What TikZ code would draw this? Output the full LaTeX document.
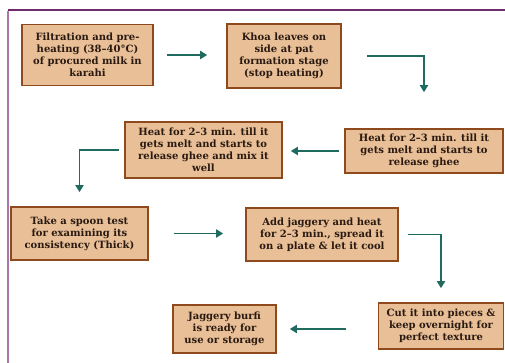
\documentclass[tikz,border=0pt]{standalone}
\usepackage{fontspec}
\setmainfont{DejaVu Serif}
\usetikzlibrary{arrows.meta,calc}
\definecolor{boxfill}{HTML}{E8BF96}
\definecolor{boxline}{HTML}{8E4A1C}
\definecolor{arrowc}{HTML}{1F6B5F}
\definecolor{frametop}{HTML}{6E2C6E}
\definecolor{frameleft}{HTML}{A978A8}
\definecolor{txt}{HTML}{2A1A12}
\begin{document}
\begin{tikzpicture}[x=1pt,y=-1pt,
  stepbox/.style={draw=boxline,line width=1.6pt,fill=boxfill,inner sep=0pt,
    align=center,text=txt,font=\fontsize{10}{12}\selectfont\bfseries},
  flow/.style={draw=arrowc,line width=1.8pt,-{Triangle[length=7pt,width=8pt]}}]
\useasboundingbox (0,0) rectangle (505,363);
\draw[frametop,line width=1.5pt] (8,10) -- (505,10);
\draw[frameleft,line width=1.5pt] (8,10.7) -- (8,363);
\node[stepbox,minimum width=131pt,minimum height=61pt] (b1) at (87.5,55)
  {Filtration and pre-\\heating (38–40°C)\\of procured milk in\\karahi};
\node[stepbox,minimum width=114pt,minimum height=64pt] (b2) at (284,56)
  {Khoa leaves on\\side at pat\\formation stage\\(stop heating)};
\node[stepbox,minimum width=158pt,minimum height=44pt] (b3) at (424,151)
  {Heat for 2–3 min. till it\\gets melt and starts to\\release ghee};
\node[stepbox,minimum width=157pt,minimum height=56pt] (b4) at (203.5,150)
  {Heat for 2–3 min. till it\\gets melt and starts to\\release ghee and mix it\\well};
\node[stepbox,minimum width=137pt,minimum height=53pt] (b5) at (79.5,233.5)
  {Take a spoon test\\for examining its\\consistency (Thick)};
\node[stepbox,minimum width=152pt,minimum height=53pt] (b6) at (322,234.5)
  {Add jaggery and heat\\for 2–3 min., spread it\\on a plate \& let it cool};
\node[stepbox,minimum width=125pt,minimum height=46pt] (b7) at (441,326)
  {Cut it into pieces \&\\keep overnight for\\perfect texture};
\node[stepbox,minimum width=103pt,minimum height=48pt] (b8) at (224.5,329)
  {Jaggery burfi\\is ready for\\use or storage};
\draw[flow,shorten <=13pt,shorten >=19pt] (b1.east) -- (b1.east -| b2.west);
\draw[flow,shorten <=25pt,shorten >=36pt] (b2.east) -| (b3.north);
\draw[flow,shorten <=5pt,shorten >=8pt] (b3.west) -- (b3.west -| b4.east);
\draw[flow,shorten <=5pt,shorten >=14pt] (b4.west) -| (b5.north);
\draw[flow,shorten <=25pt,shorten >=22pt] (b5.east) -- (b5.east -| b6.west);
\draw[flow,shorten <=9pt,shorten >=14pt] (b6.east) -| (b7.north);
\draw[flow,shorten <=32pt,shorten >=13pt] (b7.west |- b8.east) -- (b8.east);
\end{tikzpicture}
\end{document}
